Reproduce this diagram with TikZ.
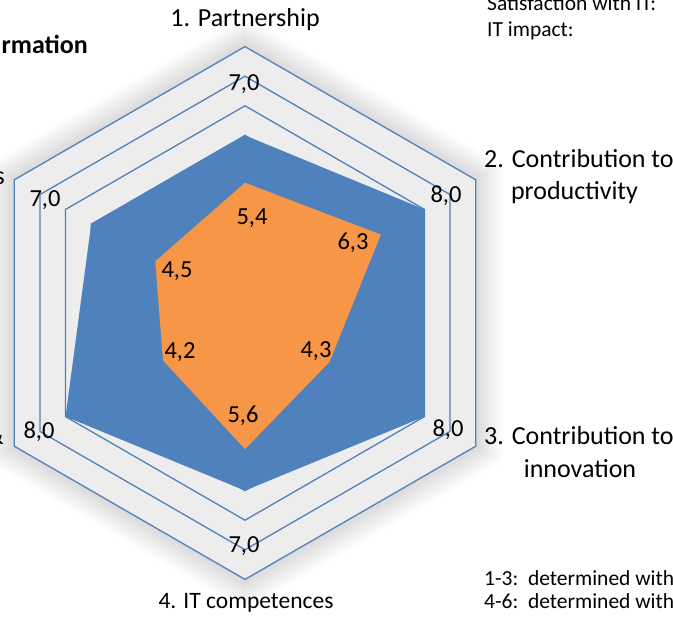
\documentclass[tikz,border=0pt]{standalone}
\usepackage{fontspec}
\setmainfont{Carlito}
\definecolor{gridblue}{RGB}{79,129,189}
\definecolor{serblue}{RGB}{79,129,189}
\definecolor{serorange}{RGB}{247,150,70}
\definecolor{plotgrey}{RGB}{237,237,237}
\newcommand{\rp}[2]{({245+(#2-1)*29.6*cos(#1)},{313-(#2-1)*29.6*sin(#1)})}
\tikzset{
  big/.style={font=\fontsize{26}{32}\selectfont, inner sep=0pt},
  small/.style={font=\fontsize{21.5}{26}\selectfont, inner sep=0pt},
  vlab/.style={font=\fontsize{24.5}{29}\selectfont, inner sep=0pt},
  ring/.style={draw=gridblue, line width=1.3pt},
}
\begin{document}
\begin{tikzpicture}[x=1pt,y=-1pt]
\useasboundingbox (0,0) rectangle (673,621);
\clip (0,0) rectangle (673,621);
% soft glow around plot area
\foreach \k in {1,...,12}{
  \fill[black, opacity=0.012]
    \rp{90}{10+\k*0.085} -- \rp{30}{10+\k*0.085} -- \rp{-30}{10+\k*0.085} -- \rp{-90}{10+\k*0.085} -- \rp{-150}{10+\k*0.085} -- \rp{150}{10+\k*0.085} -- cycle;
}
% plot area
\fill[plotgrey] \rp{90}{10} -- \rp{30}{10} -- \rp{-30}{10} -- \rp{-90}{10} -- \rp{-150}{10} -- \rp{150}{10} -- cycle;
% grid rings
\foreach \v in {7,8,9,10}{
  \draw[ring] \rp{90}{\v} -- \rp{30}{\v} -- \rp{-30}{\v} -- \rp{-90}{\v} -- \rp{-150}{\v} -- \rp{150}{\v} -- cycle;
}
% series 1 (blue)
\fill[serblue] \rp{90}{7} -- \rp{30}{8} -- \rp{-30}{8} -- \rp{-90}{7} -- \rp{-150}{8} -- \rp{150}{7} -- cycle;
% series 2 (orange)
\fill[serorange] \rp{90}{5.4} -- \rp{30}{6.3} -- \rp{-30}{4.3} -- \rp{-90}{5.6} -- \rp{-150}{4.2} -- \rp{150}{4.5} -- cycle;
% blue data labels
\node[vlab] (b1) at (244,84) {7,0};
\node[vlab] (b2) at (446,196) {8,0};
\node[vlab] (b3) at (448,430) {8,0};
\node[vlab] (b4) at (244,546) {7,0};
\node[vlab] (b5) at (39,432) {8,0};
\node[vlab] (b6) at (45,200) {7,0};
% orange data labels
\node[vlab] (o1) at (252,218) {5,4};
\node[vlab] (o2) at (353,243) {6,3};
\node[vlab] (o3) at (316,351) {4,3};
\node[vlab] (o4) at (243,416) {5,6};
\node[vlab] (o5) at (180,352) {4,2};
\node[vlab] (o6) at (177,271) {4,5};
% axis labels
\node[big, anchor=base] (a1) at (245,27) {1. Partnership};
\node[big, anchor=base west] (a2) at (484,167) {2. Contribution to};
\node[big, anchor=base] (a2b) at (574.5,199) {productivity};
\node[big, anchor=base west] (a3) at (484,444) {3. Contribution to};
\node[big, anchor=base] (a3b) at (580,477) {innovation};
\node[big, anchor=base, font=\fontsize{23.5}{28}\selectfont] (a4) at (246,608) {4. IT competences};
\node[big, anchor=base east] (a6) at (5,184) {s};
\node[big, anchor=base east] (a5) at (4,444) {\&};
% title and notes
\node[big, anchor=base east, font=\fontsize{26}{31}\selectfont\bfseries] (title) at (88,53) {rmation};
\node[small, anchor=base west] (n1) at (487,10) {Satisfaction with IT:};
\node[small, anchor=base west] (n2) at (487,37) {IT impact:};
\node[small, anchor=base west] (n3) at (484,585) {1-3:\ \ determined with};
\node[small, anchor=base west] (n4) at (484,608) {4-6:\ \ determined with};
\end{tikzpicture}
\end{document}
